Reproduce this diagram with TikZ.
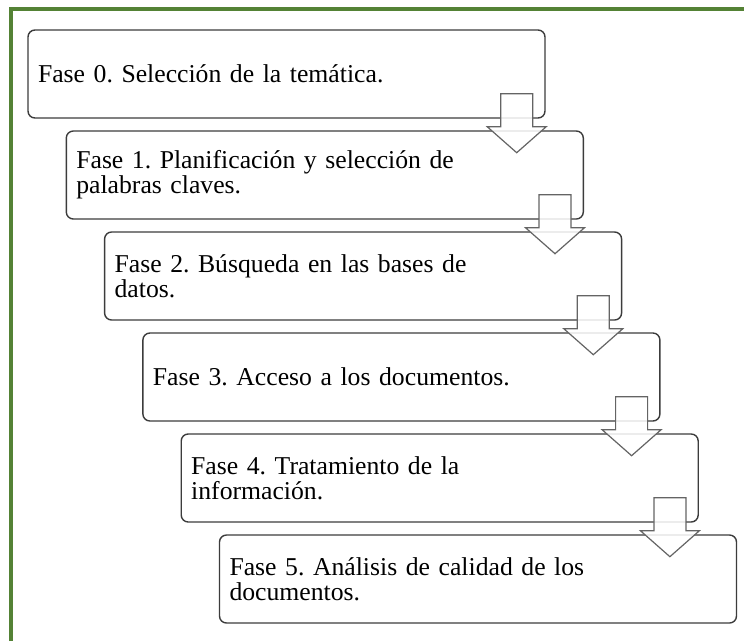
\documentclass[tikz,border=0pt]{standalone}
\usepackage{fontspec}
\setmainfont{Liberation Serif}
\usetikzlibrary{calc}
\frenchspacing
\definecolor{framegreen}{RGB}{84,130,53}
\definecolor{boxline}{RGB}{60,60,60}
\definecolor{arrowline}{RGB}{100,100,100}
\tikzset{
  phasebox/.style={draw=boxline, line width=1.4pt, rounded corners=7pt, fill=white,
    minimum width=517pt, minimum height=88pt, text width=497pt, inner xsep=10pt, inner ysep=0pt,
    align=left, font=\fontsize{25.7}{25}\selectfont},
  blockarrow/.style={draw=arrowline, line width=1.2pt, fill=white, fill opacity=0.85, line join=miter},
  downarrow/.pic={\draw[blockarrow] (-16,0) -- (16,0) -- (16,33) -- (29.5,33) -- (0,59) -- (-29.5,33) -- (-16,33) -- cycle;}
}
\begin{document}
\begin{tikzpicture}[x=1pt,y=-1pt]
\useasboundingbox[fill=white] (0,0) rectangle (744,641);
\draw[framegreen, line width=4pt] (11,641) -- (11,9) -- (744,9);
\node[phasebox] (b0) at (286.5,74) {Fase 0. Selección de la temática.};
\node[phasebox] (b1) at (324.8,175) {Fase 1. Planificación y selección de\\palabras claves.};
\node[phasebox] (b2) at (363.1,276) {Fase 2. Búsqueda en las bases de\\datos.};
\node[phasebox] (b3) at (401.4,377) {Fase 3. Acceso a los documentos.};
\node[phasebox] (b4) at (439.7,478) {Fase 4. Tratamiento de la\\información.};
\node[phasebox] (b5) at (478.0,579) {Fase 5. Análisis de calidad de los\\documentos.};
\foreach \i in {0,...,4}{
  \coordinate (a\i) at ([xshift=-29pt,yshift=25pt]b\i.south east);
  \pic at (a\i) {downarrow};
}
\end{tikzpicture}
\end{document}
